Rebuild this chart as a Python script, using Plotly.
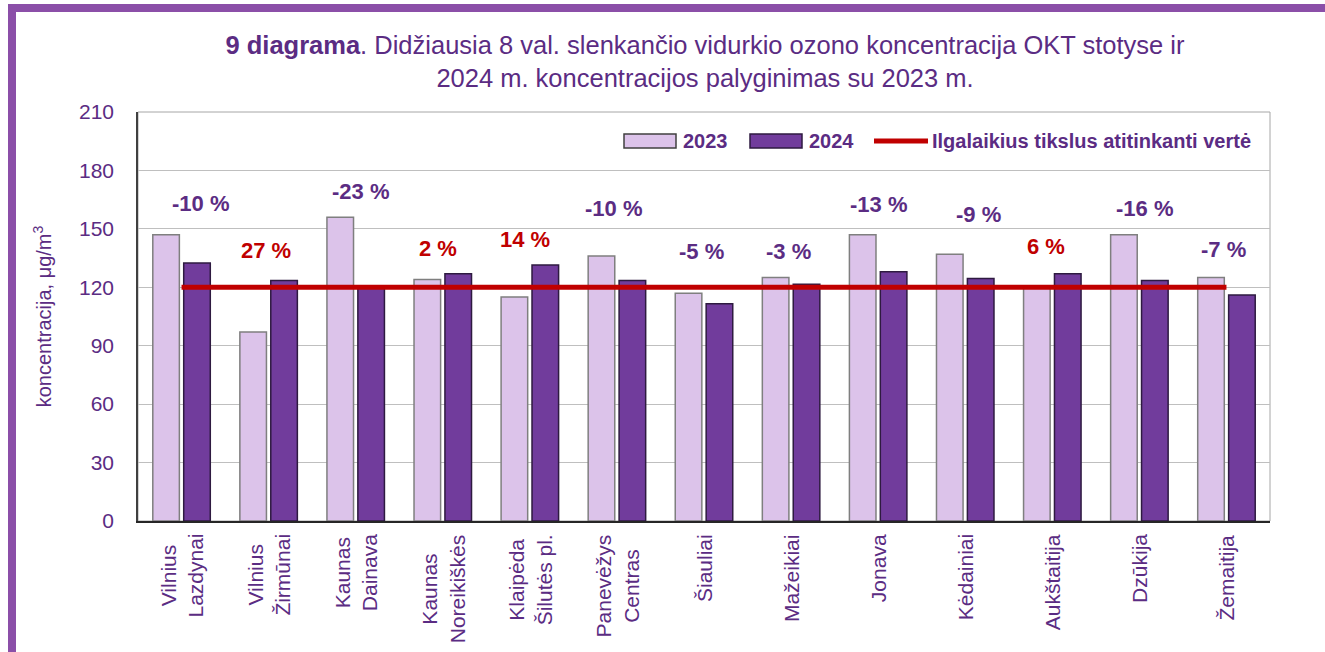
import plotly.graph_objects as go

# ---------------- data ----------------
stations = ["Vilnius<br>Lazdynai", "Vilnius<br>Žirmūnai", "Kaunas<br>Dainava",
            "Kaunas<br>Noreikiškės", "Klaipėda<br>Šilutės pl.", "Panevėžys<br>Centras",
            "Šiauliai", "Mažeikiai", "Jonava", "Kėdainiai", "Aukštaitija",
            "Dzūkija", "Žemaitija"]
values_2023 = [147, 97, 156, 124, 115, 136, 117, 125, 147, 137, 120, 147, 125]
values_2024 = [132.5, 123.5, 120, 127, 131.5, 123.5, 111.5, 121.5, 128, 124.5, 127, 123.5, 116]
target_value = 120
change_labels = ["-10 %", "27 %", "-23 %", "2 %", "14 %", "-10 %", "-5 %", "-3 %",
                 "-13 %", "-9 %", "6 %", "-16 %", "-7 %"]
y_ticks = [0, 30, 60, 90, 120, 150, 180, 210]

# ---------------- layout helpers (positions / styles) ----------------
W, H = 1325, 652
L, R, T, B = 138, 1270, 112, 521
label_y = [163.2, 139.1, 169.1, 140.0, 144.3, 160.5, 138.3, 138.3, 162.4, 157.5, 141.1, 160.4, 139.6]
label_dx = [19, -3, 5, -5, -5, -3, -3, -3, 0, 13, -6, 5, -3]

PURPLE_TXT = "#5B2C83"
RED = "#C00000"
LIGHT = "#DCC3EA"
DARK = "#713C9C"
FRAME = "#8B4FA8"
FONT = "Liberation Sans, Arial, sans-serif"


def xp(px):
    return (px - L) / (R - L)


def yp(py):
    return (B - py) / (B - T)


fig = go.Figure()
fig.add_trace(go.Bar(x=stations, y=values_2023, name="2023",
                     marker=dict(color=LIGHT, line=dict(color="#7F7F7F", width=1.5))))
fig.add_trace(go.Bar(x=stations, y=values_2024, name="2024",
                     marker=dict(color=DARK, line=dict(color="#2E1A40", width=1.5))))
fig.add_trace(go.Scatter(x=stations, y=[target_value] * len(stations), mode="lines",
                         name="Ilgalaikius tikslus atitinkanti vertė",
                         line=dict(color=RED, width=5)))

annotations = []
for st, txt, ly, dx in zip(stations, change_labels, label_y, label_dx):
    col = RED if not txt.startswith("-") else PURPLE_TXT
    annotations.append(dict(x=st, y=ly, xref="x", yref="y", text=f"<b>{txt}</b>",
                            showarrow=False, xshift=dx,
                            font=dict(family=FONT, size=22, color=col)))
for st in stations:
    annotations.append(dict(x=st, y=0, xref="x", yref="paper", text=st,
                            showarrow=False, textangle=-90, yanchor="top",
                            xanchor="center", align="center", yshift=-11,
                            font=dict(family=FONT, size=21, color=PURPLE_TXT)))

# custom legend
leg_y = 141
legend_items = [
    (624, 676, LIGHT, "#404040", 681, "2023"),
    (750, 802, DARK, "#2E1A40", 807, "2024"),
]
shapes = []
for x0, x1, fc, lc, tx, label in legend_items:
    shapes.append(dict(type="rect", xref="paper", yref="paper",
                       x0=xp(x0), x1=xp(x1), y0=yp(leg_y + 7), y1=yp(leg_y - 7),
                       fillcolor=fc, line=dict(color=lc, width=1.5)))
    annotations.append(dict(x=xp(tx), y=yp(leg_y), xref="paper", yref="paper",
                            text=f"<b>{label}</b>", showarrow=False, xanchor="left",
                            yanchor="middle",
                            font=dict(family=FONT, size=20, color=PURPLE_TXT)))
shapes.append(dict(type="line", xref="paper", yref="paper", x0=xp(874), x1=xp(928),
                   y0=yp(leg_y), y1=yp(leg_y), line=dict(color=RED, width=5)))
annotations.append(dict(x=xp(930), y=yp(leg_y), xref="paper", yref="paper",
                        text="<b>Ilgalaikius tikslus atitinkanti vertė</b>", showarrow=False,
                        xanchor="left", yanchor="middle",
                        font=dict(family=FONT, size=20, color=PURPLE_TXT)))

# plot-area border and outer frame
shapes.append(dict(type="rect", xref="paper", yref="paper", x0=0, x1=1, y0=0, y1=1,
                   line=dict(color="#A6A6A6", width=1), layer="below"))
shapes.append(dict(type="rect", xref="paper", yref="paper",
                   x0=xp(12), x1=xp(1345), y0=yp(700), y1=yp(8),
                   line=dict(color=FRAME, width=8), fillcolor="rgba(0,0,0,0)"))

fig.update_layout(
    width=W, height=H,
    margin=dict(l=L, r=W - R, t=T, b=H - B, autoexpand=False),
    paper_bgcolor="white", plot_bgcolor="white",
    barmode="group", bargap=0.29, bargroupgap=0.14,
    showlegend=False,
    title=dict(text="<b>9 diagrama</b>. Didžiausia 8 val. slenkančio vidurkio ozono koncentracija OKT stotyse ir"
                    "<br>2024 m. koncentracijos palyginimas su 2023 m.",
               x=xp(705), xref="paper", xanchor="center",
               y=1 - 54 / H, yref="container", yanchor="middle",
               font=dict(family=FONT, size=25.5, color=PURPLE_TXT)),
    xaxis=dict(showticklabels=False, showline=True, linecolor="#262626", linewidth=2,
               showgrid=False, ticks="", automargin=False),
    yaxis=dict(range=[0, 210], tickvals=y_ticks, showgrid=True, gridcolor="#BFBFBF",
               gridwidth=1, showline=True, linecolor="#404040", linewidth=1.5,
               zeroline=False, ticks="", ticklabelstandoff=18, automargin=False,
               tickfont=dict(family=FONT, size=21, color=PURPLE_TXT),
               title=dict(text="koncentracija, μg/m<sup>3</sup>", standoff=22,
                          font=dict(family=FONT, size=20, color=PURPLE_TXT))),
    annotations=annotations,
    shapes=shapes,
)

fig.write_html("out.html", config={"displayModeBar": False},
               post_script="document.body.style.margin='0';")
